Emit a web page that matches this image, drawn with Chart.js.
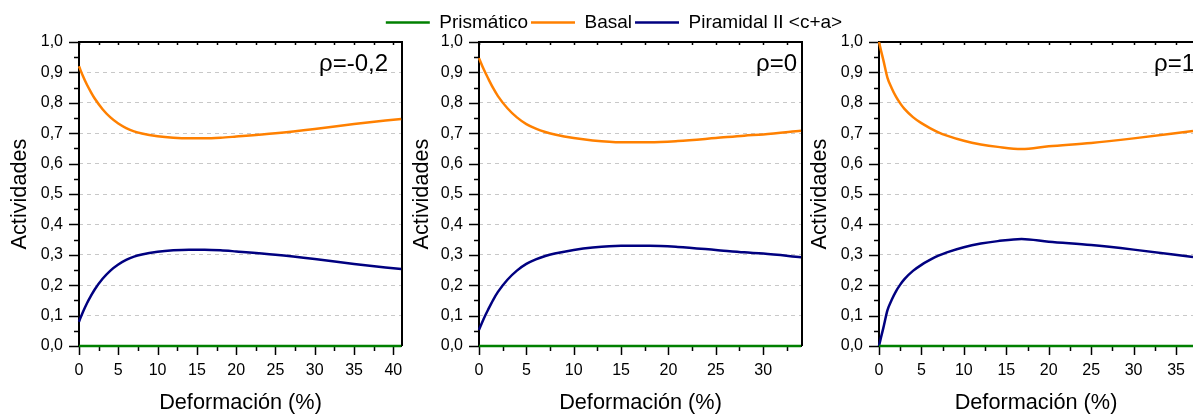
<!DOCTYPE html>
<html lang="es">
<head>
<meta charset="UTF-8">
<title>Actividades vs Deformación</title>
<script src="https://cdn.jsdelivr.net/npm/chart.js"></script>
<style>
  html, body { margin: 0; padding: 0; background: #fff; overflow: hidden; }
  #contenedor { position: relative; width: 1193px; height: 416px; }
  .panel { position: absolute; top: 0; height: 416px; }
</style>
</head>
<body>
<div id="contenedor">
  <div class="panel" style="left:0;width:410px"><canvas id="graf1"></canvas></div>
  <div class="panel" style="left:370px;width:488px"><canvas id="graf2"></canvas></div>
  <div class="panel" style="left:800px;width:393px"><canvas id="graf3"></canvas></div>
</div>

<script>
    // nombres de los sistemas de deslizamiento
    const nombres = ['Prismático', 'Basal', 'Piramidal II <c+a>'];
    const etiquetasY = ['0,0', '0,1', '0,2', '0,3', '0,4', '0,5', '0,6', '0,7', '0,8', '0,9', '1,0'];

    // rho = -0,2
    const defA   = [0, 0.5, 1, 1.5, 2, 3, 4, 5, 6, 7, 8, 10, 12, 14, 16, 18, 20, 25, 30, 35, 41];
    const prismA = [0, 0, 0, 0, 0, 0, 0, 0, 0, 0, 0, 0, 0, 0, 0, 0, 0, 0, 0, 0, 0];
    const basalA = [0.92, 0.888, 0.86, 0.836, 0.814, 0.779, 0.752, 0.732, 0.717, 0.706, 0.699, 0.690, 0.685, 0.683, 0.683, 0.685, 0.689, 0.700, 0.714, 0.730, 0.747];
    const piramA = [0.08, 0.112, 0.14, 0.164, 0.186, 0.221, 0.248, 0.268, 0.283, 0.294, 0.301, 0.310, 0.315, 0.317, 0.317, 0.315, 0.311, 0.300, 0.286, 0.270, 0.253];

    // rho = 0
    const defB   = [0, 0.5, 1, 1.5, 2, 3, 4, 5, 6, 7, 8, 10, 12, 15, 18, 21, 25, 28, 30, 34];
    const prismB = [0, 0, 0, 0, 0, 0, 0, 0, 0, 0, 0, 0, 0, 0, 0, 0, 0, 0, 0, 0];
    const basalB = [0.947, 0.91, 0.878, 0.848, 0.822, 0.782, 0.752, 0.730, 0.715, 0.704, 0.696, 0.684, 0.676, 0.670, 0.670, 0.674, 0.684, 0.692, 0.696, 0.708];
    const piramB = [0.053, 0.09, 0.122, 0.152, 0.178, 0.218, 0.248, 0.270, 0.285, 0.296, 0.304, 0.316, 0.324, 0.330, 0.330, 0.326, 0.316, 0.308, 0.304, 0.292];

    // rho = 1
    const defC   = [0, 0.25, 0.5, 1, 1.5, 2, 2.5, 3, 4, 5, 6, 7, 8, 10, 12, 14, 16.8, 20, 25, 30, 37];
    const prismC = [0, 0, 0, 0, 0, 0, 0, 0, 0, 0, 0, 0, 0, 0, 0, 0, 0, 0, 0, 0, 0];
    const basalC = [1.0, 0.97, 0.942, 0.882, 0.848, 0.82, 0.798, 0.78, 0.753, 0.733, 0.717, 0.703, 0.692, 0.675, 0.663, 0.655, 0.648, 0.657, 0.668, 0.683, 0.707];
    const piramC = [0.0, 0.03, 0.058, 0.118, 0.152, 0.18, 0.202, 0.22, 0.247, 0.267, 0.283, 0.297, 0.308, 0.325, 0.337, 0.345, 0.352, 0.343, 0.332, 0.317, 0.293];

    const colores = ['#008000', '#FF8000', '#000080'];

    Chart.defaults.font.family = "'Liberation Sans', Arial, sans-serif";
    Chart.defaults.color = '#000';

    // marco negro, marcas de los ejes y la etiqueta de rho
    const marcoEjes = {
        id: 'marcoEjes',
        beforeDatasetsDraw(chart, args, opts) {
            const { ctx, chartArea: a, scales: { x, y } } = chart;
            ctx.save();
            ctx.strokeStyle = '#000';
            ctx.lineWidth = 2;
            ctx.beginPath();
            ctx.moveTo(a.left, a.bottom);
            ctx.lineTo(a.left, a.top);
            ctx.lineTo(a.right, a.top);
            if (opts.ladoDerecho) ctx.lineTo(a.right, a.bottom);
            ctx.moveTo(a.left, a.bottom);
            ctx.lineTo(a.right, a.bottom);
            ctx.stroke();

            ctx.lineWidth = 1.5;
            ctx.beginPath();
            for (let i = 0; i <= 20; i++) {
                const py = Math.round(y.getPixelForValue(i * 0.05)) + 0.5;
                const largo = i % 2 === 0 ? 10 : 5;
                ctx.moveTo(a.left, py);
                ctx.lineTo(a.left - largo, py);
            }
            for (let i = 0; i * 2.5 <= x.max; i++) {
                const px = Math.round(x.getPixelForValue(i * 2.5)) + 0.5;
                const largo = i % 2 === 0 ? 9 : 5;
                ctx.moveTo(px, a.bottom);
                ctx.lineTo(px, a.bottom + largo);
                ctx.moveTo(px, a.top);
                ctx.lineTo(px, a.top + 3);
            }
            ctx.stroke();
            ctx.restore();
        },
        afterDatasetsDraw(chart, args, opts) {
            const { ctx, chartArea: a } = chart;
            ctx.save();
            ctx.font = "24px 'Liberation Sans', Arial, sans-serif";
            ctx.fillStyle = '#000';
            ctx.textBaseline = 'alphabetic';
            if (opts.rhoDesdeIzq !== undefined) {
                ctx.textAlign = 'left';
                ctx.fillText(opts.rho, a.left + opts.rhoDesdeIzq, 71);
            } else {
                ctx.textAlign = 'right';
                ctx.fillText(opts.rho, a.right - opts.rhoDesdeDer, 71);
            }
            ctx.restore();
        }
    };

    function crearPanel(id, def, prism, basal, piram, xMax, extra) {
        const series = [prism, basal, piram];
        const escalas = {
            x: {
                type: 'linear',
                min: 0,
                max: xMax,
                grid: { display: false },
                border: { display: false },
                ticks: {
                    stepSize: 5,
                    includeBounds: false,
                    autoSkip: false,
                    maxRotation: 0,
                    padding: 7,
                    font: { size: 16 }
                },
                title: {
                    display: true,
                    text: 'Deformación (%)',
                    font: { size: 21.7 },
                    padding: { top: 0, bottom: 0 }
                },
                afterFit(s) { s.height = 70; }
            },
            y: {
                type: 'linear',
                min: 0,
                max: 1,
                grid: {
                    drawTicks: false,
                    lineWidth: 1,
                    color: c => (c.tick && c.tick.value > 0.001 && c.tick.value < 0.999) ? '#c8c8c8' : 'rgba(0,0,0,0)'
                },
                border: { display: false, dash: [4, 4] },
                ticks: {
                    stepSize: 0.1,
                    padding: 16,
                    font: { size: 16 },
                    callback: (v) => etiquetasY[Math.round(v * 10)]
                },
                title: {
                    display: true,
                    text: 'Actividades',
                    font: { size: 21.7 },
                    padding: { top: extra.margenTitulo, bottom: 0 }
                },
                afterFit(s) { s.width = extra.anchoIzq; }
            }
        };
        if (extra.anchoDerecho) {
            escalas.yDer = {
                type: 'linear',
                position: 'right',
                grid: { display: false },
                border: { display: false },
                ticks: { display: false },
                afterFit(s) { s.width = extra.anchoDerecho; }
            };
        }

        return new Chart(document.getElementById(id), {
            type: 'line',
            data: {
                datasets: series.map((serie, k) => ({
                    label: nombres[k],
                    data: def.map((d, i) => ({ x: d, y: serie[i] })),
                    borderColor: colores[k],
                    backgroundColor: colores[k],
                    borderWidth: 2.5,
                    pointRadius: 0,
                    cubicInterpolationMode: 'monotone',
                    clip: 2
                }))
            },
            options: {
                responsive: true,
                maintainAspectRatio: false,
                animation: false,
                layout: { padding: extra.relleno },
                scales: escalas,
                plugins: {
                    legend: {
                        display: !!extra.leyenda,
                        labels: {
                            usePointStyle: true,
                            pointStyle: 'line',
                            pointStyleWidth: 44,
                            padding: 3,
                            color: '#000',
                            font: { size: 19 }
                        }
                    },
                    tooltip: { enabled: false },
                    marcoEjes: extra.marco
                }
            },
            plugins: [marcoEjes]
        });
    }

    crearPanel('graf1', defA, prismA, basalA, piramA, 41.1, {
        anchoIzq: 79,
        margenTitulo: 7,
        relleno: { top: 42, right: 8, left: 0, bottom: 0 },
        marco: { ladoDerecho: true, rho: 'ρ=-0,2', rhoDesdeDer: 14 }
    });

    crearPanel('graf2', defB, prismB, basalB, piramB, 34.1, {
        leyenda: true,
        anchoIzq: 109,
        anchoDerecho: 56,
        margenTitulo: 39.5,
        relleno: { top: 10, right: 0, left: 0, bottom: 0 },
        marco: { ladoDerecho: true, rho: 'ρ=0', rhoDesdeDer: 5 }
    });

    crearPanel('graf3', defC, prismC, basalC, piramC, 37, {
        anchoIzq: 79,
        margenTitulo: 7,
        relleno: { top: 42, right: 0, left: 0, bottom: 0 },
        marco: { ladoDerecho: false, rho: 'ρ=1', rhoDesdeIzq: 275 }
    });
</script>
</body>
</html>
